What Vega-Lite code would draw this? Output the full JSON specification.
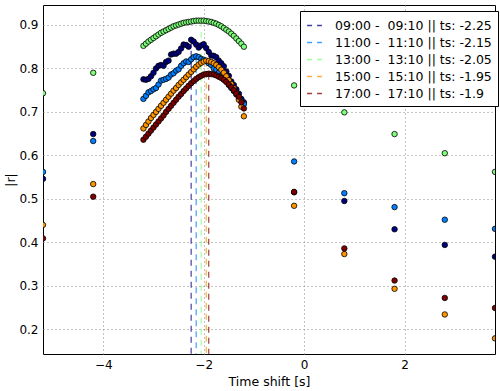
{
  "$schema": "https://vega.github.io/schema/vega-lite/v6.json",
  "width": 452,
  "height": 349,
  "autosize": "none",
  "padding": {"left": 43, "top": 5, "right": 5, "bottom": 37},
  "background": "white",
  "config": {
    "font": "DejaVu Sans",
    "view": {"stroke": "black", "strokeWidth": 1},
    "axis": {
      "domain": false,
      "ticks": false,
      "labelFont": "DejaVu Sans",
      "labelFontSize": 12,
      "labelColor": "black",
      "titleFont": "DejaVu Sans",
      "titleFontSize": 12.5,
      "titleFontWeight": "normal",
      "titleColor": "black",
      "gridColor": "#888",
      "gridDash": [1, 3],
      "gridWidth": 1,
      "labelPadding": 5
    }
  },
  "datasets": {
    "pts": [
      {"h":"09:00","t":-5.2,"r":0.546},{"h":"09:00","t":-4.2,"r":0.649},
      {"h":"09:00","t":-3.2,"r":0.775},{"h":"09:00","t":-3.15,"r":0.774},{"h":"09:00","t":-3.1,"r":0.776},{"h":"09:00","t":-3.05,"r":0.782},{"h":"09:00","t":-3.0,"r":0.790},{"h":"09:00","t":-2.95,"r":0.800},{"h":"09:00","t":-2.9,"r":0.806},{"h":"09:00","t":-2.85,"r":0.808},{"h":"09:00","t":-2.8,"r":0.806},{"h":"09:00","t":-2.75,"r":0.815},{"h":"09:00","t":-2.7,"r":0.818},{"h":"09:00","t":-2.65,"r":0.832},{"h":"09:00","t":-2.6,"r":0.834},{"h":"09:00","t":-2.55,"r":0.834},{"h":"09:00","t":-2.5,"r":0.838},{"h":"09:00","t":-2.45,"r":0.846},{"h":"09:00","t":-2.4,"r":0.855},{"h":"09:00","t":-2.35,"r":0.854},{"h":"09:00","t":-2.3,"r":0.850},{"h":"09:00","t":-2.25,"r":0.866},{"h":"09:00","t":-2.2,"r":0.862},{"h":"09:00","t":-2.15,"r":0.855},{"h":"09:00","t":-2.1,"r":0.848},{"h":"09:00","t":-2.05,"r":0.853},{"h":"09:00","t":-2.0,"r":0.856},{"h":"09:00","t":-1.95,"r":0.847},{"h":"09:00","t":-1.9,"r":0.838},{"h":"09:00","t":-1.85,"r":0.830},{"h":"09:00","t":-1.8,"r":0.829},{"h":"09:00","t":-1.75,"r":0.826},{"h":"09:00","t":-1.7,"r":0.818},{"h":"09:00","t":-1.65,"r":0.812},{"h":"09:00","t":-1.6,"r":0.805},{"h":"09:00","t":-1.55,"r":0.793},{"h":"09:00","t":-1.5,"r":0.783},{"h":"09:00","t":-1.45,"r":0.770},{"h":"09:00","t":-1.4,"r":0.762},{"h":"09:00","t":-1.35,"r":0.752},{"h":"09:00","t":-1.3,"r":0.742},{"h":"09:00","t":-1.25,"r":0.730},{"h":"09:00","t":-1.2,"r":0.722},
      {"h":"09:00","t":-0.2,"r":0.515},{"h":"09:00","t":0.8,"r":0.495},{"h":"09:00","t":1.8,"r":0.430},{"h":"09:00","t":2.8,"r":0.394},{"h":"09:00","t":3.8,"r":0.367},

      {"h":"11:00","t":-5.2,"r":0.562},{"h":"11:00","t":-4.2,"r":0.633},
      {"h":"11:00","t":-3.2,"r":0.730},{"h":"11:00","t":-3.15,"r":0.737},{"h":"11:00","t":-3.1,"r":0.745},{"h":"11:00","t":-3.05,"r":0.748},{"h":"11:00","t":-3.0,"r":0.752},{"h":"11:00","t":-2.95,"r":0.755},{"h":"11:00","t":-2.9,"r":0.763},{"h":"11:00","t":-2.85,"r":0.772},{"h":"11:00","t":-2.8,"r":0.774},{"h":"11:00","t":-2.75,"r":0.776},{"h":"11:00","t":-2.7,"r":0.779},{"h":"11:00","t":-2.65,"r":0.786},{"h":"11:00","t":-2.6,"r":0.789},{"h":"11:00","t":-2.55,"r":0.795},{"h":"11:00","t":-2.5,"r":0.798},{"h":"11:00","t":-2.45,"r":0.806},{"h":"11:00","t":-2.4,"r":0.812},{"h":"11:00","t":-2.35,"r":0.816},{"h":"11:00","t":-2.3,"r":0.815},{"h":"11:00","t":-2.25,"r":0.821},{"h":"11:00","t":-2.2,"r":0.826},{"h":"11:00","t":-2.15,"r":0.828},{"h":"11:00","t":-2.1,"r":0.826},{"h":"11:00","t":-2.05,"r":0.822},{"h":"11:00","t":-2.0,"r":0.820},{"h":"11:00","t":-1.95,"r":0.817},{"h":"11:00","t":-1.9,"r":0.812},{"h":"11:00","t":-1.85,"r":0.808},{"h":"11:00","t":-1.8,"r":0.800},{"h":"11:00","t":-1.75,"r":0.797},{"h":"11:00","t":-1.7,"r":0.790},{"h":"11:00","t":-1.65,"r":0.783},{"h":"11:00","t":-1.6,"r":0.775},{"h":"11:00","t":-1.55,"r":0.770},{"h":"11:00","t":-1.5,"r":0.762},{"h":"11:00","t":-1.45,"r":0.755},{"h":"11:00","t":-1.4,"r":0.748},{"h":"11:00","t":-1.35,"r":0.740},{"h":"11:00","t":-1.3,"r":0.732},{"h":"11:00","t":-1.25,"r":0.725},{"h":"11:00","t":-1.2,"r":0.718},
      {"h":"11:00","t":-0.2,"r":0.586},{"h":"11:00","t":0.8,"r":0.513},{"h":"11:00","t":1.8,"r":0.481},{"h":"11:00","t":2.8,"r":0.452},{"h":"11:00","t":3.8,"r":0.431},

      {"h":"13:00","t":-5.2,"r":0.743},{"h":"13:00","t":-4.2,"r":0.790},
      {"h":"13:00","t":-3.2,"r":0.852},{"h":"13:00","t":-3.15,"r":0.857},{"h":"13:00","t":-3.1,"r":0.862},{"h":"13:00","t":-3.05,"r":0.866},{"h":"13:00","t":-3.0,"r":0.870},{"h":"13:00","t":-2.95,"r":0.874},{"h":"13:00","t":-2.9,"r":0.878},{"h":"13:00","t":-2.85,"r":0.882},{"h":"13:00","t":-2.8,"r":0.885},{"h":"13:00","t":-2.75,"r":0.888},{"h":"13:00","t":-2.7,"r":0.891},{"h":"13:00","t":-2.65,"r":0.894},{"h":"13:00","t":-2.6,"r":0.897},{"h":"13:00","t":-2.55,"r":0.899},{"h":"13:00","t":-2.5,"r":0.901},{"h":"13:00","t":-2.45,"r":0.903},{"h":"13:00","t":-2.4,"r":0.905},{"h":"13:00","t":-2.35,"r":0.906},{"h":"13:00","t":-2.3,"r":0.907},{"h":"13:00","t":-2.25,"r":0.908},{"h":"13:00","t":-2.2,"r":0.909},{"h":"13:00","t":-2.15,"r":0.910},{"h":"13:00","t":-2.1,"r":0.910},{"h":"13:00","t":-2.05,"r":0.910},{"h":"13:00","t":-2.0,"r":0.910},{"h":"13:00","t":-1.95,"r":0.909},{"h":"13:00","t":-1.9,"r":0.908},{"h":"13:00","t":-1.85,"r":0.907},{"h":"13:00","t":-1.8,"r":0.905},{"h":"13:00","t":-1.75,"r":0.903},{"h":"13:00","t":-1.7,"r":0.900},{"h":"13:00","t":-1.65,"r":0.897},{"h":"13:00","t":-1.6,"r":0.893},{"h":"13:00","t":-1.55,"r":0.889},{"h":"13:00","t":-1.5,"r":0.885},{"h":"13:00","t":-1.45,"r":0.880},{"h":"13:00","t":-1.4,"r":0.875},{"h":"13:00","t":-1.35,"r":0.869},{"h":"13:00","t":-1.3,"r":0.863},{"h":"13:00","t":-1.25,"r":0.857},{"h":"13:00","t":-1.2,"r":0.850},
      {"h":"13:00","t":-0.2,"r":0.761},{"h":"13:00","t":0.8,"r":0.699},{"h":"13:00","t":1.8,"r":0.649},{"h":"13:00","t":2.8,"r":0.605},{"h":"13:00","t":3.8,"r":0.562},

      {"h":"15:00","t":-5.2,"r":0.440},{"h":"15:00","t":-4.2,"r":0.534},
      {"h":"15:00","t":-3.2,"r":0.662},{"h":"15:00","t":-3.15,"r":0.670},{"h":"15:00","t":-3.1,"r":0.678},{"h":"15:00","t":-3.05,"r":0.686},{"h":"15:00","t":-3.0,"r":0.693},{"h":"15:00","t":-2.95,"r":0.700},{"h":"15:00","t":-2.9,"r":0.707},{"h":"15:00","t":-2.85,"r":0.714},{"h":"15:00","t":-2.8,"r":0.721},{"h":"15:00","t":-2.75,"r":0.728},{"h":"15:00","t":-2.7,"r":0.735},{"h":"15:00","t":-2.65,"r":0.742},{"h":"15:00","t":-2.6,"r":0.749},{"h":"15:00","t":-2.55,"r":0.755},{"h":"15:00","t":-2.5,"r":0.762},{"h":"15:00","t":-2.45,"r":0.768},{"h":"15:00","t":-2.4,"r":0.774},{"h":"15:00","t":-2.35,"r":0.780},{"h":"15:00","t":-2.3,"r":0.786},{"h":"15:00","t":-2.25,"r":0.792},{"h":"15:00","t":-2.2,"r":0.798},{"h":"15:00","t":-2.15,"r":0.804},{"h":"15:00","t":-2.1,"r":0.809},{"h":"15:00","t":-2.05,"r":0.813},{"h":"15:00","t":-2.0,"r":0.816},{"h":"15:00","t":-1.95,"r":0.818},{"h":"15:00","t":-1.9,"r":0.817},{"h":"15:00","t":-1.85,"r":0.815},{"h":"15:00","t":-1.8,"r":0.812},{"h":"15:00","t":-1.75,"r":0.808},{"h":"15:00","t":-1.7,"r":0.803},{"h":"15:00","t":-1.65,"r":0.797},{"h":"15:00","t":-1.6,"r":0.790},{"h":"15:00","t":-1.55,"r":0.782},{"h":"15:00","t":-1.5,"r":0.773},{"h":"15:00","t":-1.45,"r":0.764},{"h":"15:00","t":-1.4,"r":0.755},{"h":"15:00","t":-1.35,"r":0.744},{"h":"15:00","t":-1.3,"r":0.728},{"h":"15:00","t":-1.25,"r":0.712},{"h":"15:00","t":-1.2,"r":0.690},
      {"h":"15:00","t":-0.2,"r":0.484},{"h":"15:00","t":0.8,"r":0.373},{"h":"15:00","t":1.8,"r":0.293},{"h":"15:00","t":2.8,"r":0.234},{"h":"15:00","t":3.8,"r":0.179},

      {"h":"17:00","t":-5.2,"r":0.409},{"h":"17:00","t":-4.2,"r":0.505},
      {"h":"17:00","t":-3.2,"r":0.636},{"h":"17:00","t":-3.15,"r":0.643},{"h":"17:00","t":-3.1,"r":0.650},{"h":"17:00","t":-3.05,"r":0.657},{"h":"17:00","t":-3.0,"r":0.664},{"h":"17:00","t":-2.95,"r":0.671},{"h":"17:00","t":-2.9,"r":0.678},{"h":"17:00","t":-2.85,"r":0.685},{"h":"17:00","t":-2.8,"r":0.692},{"h":"17:00","t":-2.75,"r":0.700},{"h":"17:00","t":-2.7,"r":0.707},{"h":"17:00","t":-2.65,"r":0.714},{"h":"17:00","t":-2.6,"r":0.721},{"h":"17:00","t":-2.55,"r":0.728},{"h":"17:00","t":-2.5,"r":0.735},{"h":"17:00","t":-2.45,"r":0.741},{"h":"17:00","t":-2.4,"r":0.748},{"h":"17:00","t":-2.35,"r":0.754},{"h":"17:00","t":-2.3,"r":0.760},{"h":"17:00","t":-2.25,"r":0.766},{"h":"17:00","t":-2.2,"r":0.771},{"h":"17:00","t":-2.15,"r":0.776},{"h":"17:00","t":-2.1,"r":0.780},{"h":"17:00","t":-2.05,"r":0.783},{"h":"17:00","t":-2.0,"r":0.786},{"h":"17:00","t":-1.95,"r":0.787},{"h":"17:00","t":-1.9,"r":0.788},{"h":"17:00","t":-1.85,"r":0.787},{"h":"17:00","t":-1.8,"r":0.786},{"h":"17:00","t":-1.75,"r":0.784},{"h":"17:00","t":-1.7,"r":0.781},{"h":"17:00","t":-1.65,"r":0.778},{"h":"17:00","t":-1.6,"r":0.774},{"h":"17:00","t":-1.55,"r":0.769},{"h":"17:00","t":-1.5,"r":0.763},{"h":"17:00","t":-1.45,"r":0.757},{"h":"17:00","t":-1.4,"r":0.750},{"h":"17:00","t":-1.35,"r":0.742},{"h":"17:00","t":-1.3,"r":0.735},{"h":"17:00","t":-1.25,"r":0.722},{"h":"17:00","t":-1.2,"r":0.708},
      {"h":"17:00","t":-0.2,"r":0.516},{"h":"17:00","t":0.8,"r":0.386},{"h":"17:00","t":1.8,"r":0.312},{"h":"17:00","t":2.8,"r":0.272},{"h":"17:00","t":3.8,"r":0.249}
    ],
    "peaks": [
      {"label":"09:00 - \u00a009:10 || ts: -2.25","ts":-2.25,"peak":0.866},
      {"label":"11:00 - \u00a011:10 || ts: -2.15","ts":-2.15,"peak":0.828},
      {"label":"13:00 - \u00a013:10 || ts: -2.05","ts":-2.05,"peak":0.910},
      {"label":"15:00 - \u00a015:10 || ts: -1.95","ts":-1.95,"peak":0.818},
      {"label":"17:00 - \u00a017:10 || ts: -1.9","ts":-1.9,"peak":0.788}
    ]
  },
  "layer": [
    {
      "data": {"name": "peaks"},
      "mark": {"type": "rule", "strokeDash": [6, 5], "strokeWidth": 1.2, "opacity": 0.75},
      "encoding": {
        "x": {"field": "ts", "type": "quantitative", "scale": {"domain": [-5.2, 3.8], "nice": false, "zero": false},
              "axis": {"values": [-4, -2, 0, 2], "title": "Time shift [s]", "titlePadding": 5}},
        "y": {"field": "peak", "type": "quantitative", "scale": {"domain": [0.143, 0.946], "nice": false, "zero": false},
              "axis": {"values": [0.2, 0.3, 0.4, 0.5, 0.6, 0.7, 0.8, 0.9], "format": ".1f", "title": "|r|", "titlePadding": 1}},
        "y2": {"value": "height"},
        "stroke": {
          "field": "label", "type": "nominal",
          "scale": {
            "domain": ["09:00 - \u00a009:10 || ts: -2.25","11:00 - \u00a011:10 || ts: -2.15","13:00 - \u00a013:10 || ts: -2.05","15:00 - \u00a015:10 || ts: -1.95","17:00 - \u00a017:10 || ts: -1.9"],
            "range": ["#00007f", "#0080ff", "#7dff7a", "#ff9400", "#7f0000"]
          },
          "legend": {
            "title": null,
            "orient": "none",
            "legendX": 257,
            "legendY": 6,
            "symbolType": "stroke",
            "symbolSize": 220,
            "symbolStrokeWidth": 1.5,
            "symbolDash": [5, 5],
            "symbolOpacity": 0.75,
            "labelFontSize": 12.5,
            "labelFont": "DejaVu Sans",
            "labelColor": "black",
            "labelLimit": 0,
            "labelOffset": 12,
            "rowPadding": 2,
            "strokeColor": "black",
            "fillColor": "white",
            "padding": 6,
            "cornerRadius": 0
          }
        }
      }
    },
    {
      "data": {"name": "pts"},
      "mark": {"type": "point", "shape": "circle", "filled": true, "size": 30, "stroke": "black", "strokeWidth": 0.8, "opacity": 1, "clip": true},
      "encoding": {
        "x": {"field": "t", "type": "quantitative"},
        "y": {"field": "r", "type": "quantitative"},
        "fill": {
          "field": "h", "type": "nominal",
          "scale": {"domain": ["09:00", "11:00", "13:00", "15:00", "17:00"], "range": ["#00007f", "#0080ff", "#7dff7a", "#ff9400", "#7f0000"]},
          "legend": null
        }
      }
    }
  ]
}
